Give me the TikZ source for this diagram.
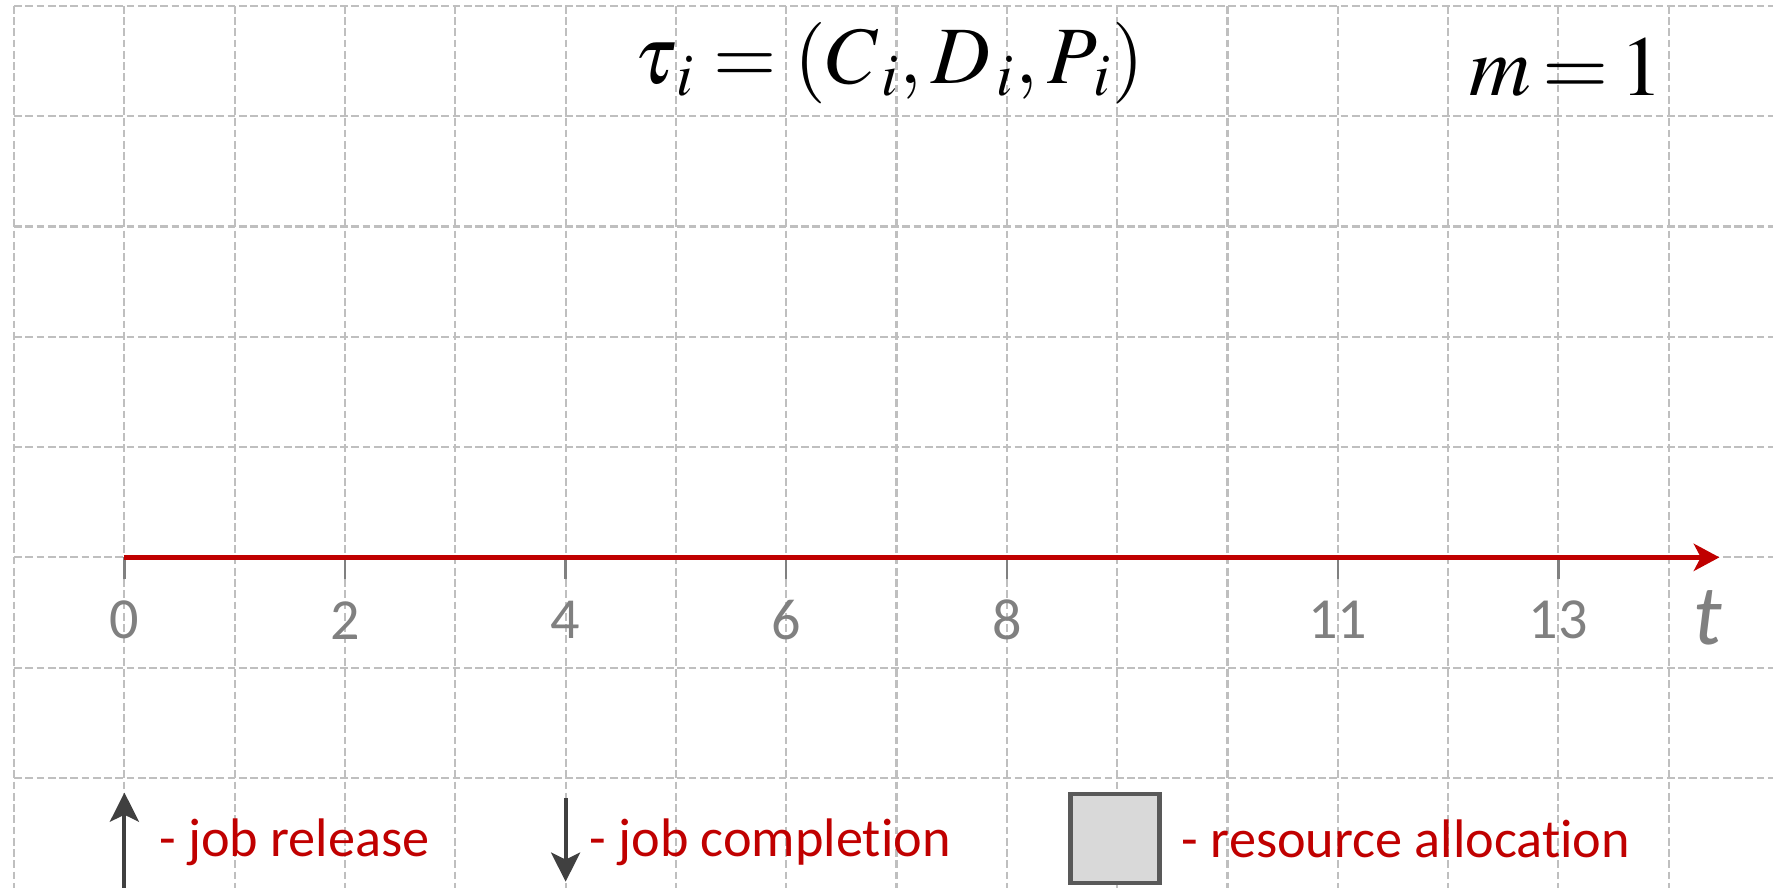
\documentclass[tikz,border=0pt]{standalone}
\usepackage{mathptmx}
\usepackage[no-math]{fontspec}
\newfontfamily\calibri[Ligatures=NoCommon]{Carlito}
\usepackage{xcolor}
\usepackage{tikz}
\usetikzlibrary{arrows.meta}

\definecolor{axisred}{HTML}{C00000}
\definecolor{gridgray}{HTML}{BFBFBF}
\definecolor{ticgray}{HTML}{808080}
\definecolor{arrowgray}{HTML}{404040}
\definecolor{boxedge}{HTML}{595959}
\definecolor{boxfill}{HTML}{D9D9D9}

\tikzset{
    gridline/.style={gridgray, line width=0.55pt, dash pattern=on 2pt off 0.9pt},
    timeaxis/.style={axisred, line width=1.2pt, -{Stealth[length=6.6pt, width=7pt, inset=1.8pt]}},
    ticline/.style={ticgray, line width=0.6pt},
    ticlabel/.style={ticgray, font=\calibri\fontsize{15}{18}\selectfont},
    legarrow/.style={arrowgray, line width=1pt, -{Stealth[length=7.5pt, width=7.5pt, inset=1.8pt]}},
    legtext/.style={axisred, anchor=base west, inner sep=0pt, font=\calibri\fontsize{14}{17}\selectfont},
    resbox/.style={draw=boxedge, fill=boxfill, line width=1.1pt}
}

\begin{document}
\begin{tikzpicture}[x=1cm, y=1cm]
                \useasboundingbox (-1.128,-2.997) rectangle (14.946,5.053);
                \clip (-1.128,-2.997) rectangle (14.946,5.053);

                % background grid
                \foreach \x in {-1,...,14} {
                    \draw[gridline] (\x,5) -- (\x,-3.1);
                }
                \foreach \y in {5,...,-2} {
                    \draw[gridline] (-1,\y) -- (15,\y);
                }

                % task and processors
                \node (task) at (6.93,4.48) {\fontsize{21}{25}\selectfont $\thickmuskip=4mu \tau_{\,i}=(C_{\,i},D_{\,i},P_{\,i})$};
                \node (proc) at (13.07,4.44) {\fontsize{22}{26}\selectfont $\thickmuskip=2.5mu m=1$};

                % time axis
                \coordinate (origin) at (0,0);
                \coordinate (tend) at (14.46,0);
                \foreach \x in {0, 2, 4, 6, 8, 11, 13} {
                    \draw[ticline] (\x,0) -- (\x,-0.2);
                    \node[ticlabel] (tic\x) at (\x,-0.57) {\x};
                }
                \draw[timeaxis] (origin) -- (tend);
                \node[ticgray, font=\calibri\itshape\fontsize{22}{26}\selectfont] (tlabel) at (14.35,-0.55) {t};

                % legend
                \coordinate (relbot) at (0,-3.05);
                \coordinate (reltop) at (0,-2.133);
                \draw[legarrow] (relbot) -- (reltop);
                \node[legtext] (reltext) at (0.31,-2.716) {- job release};

                \coordinate (comptop) at (4,-2.18);
                \coordinate (compbot) at (4,-2.94);
                \draw[legarrow] (comptop) -- (compbot);
                \node[legtext] (comptext) at (4.21,-2.716) {- job completion};

                \draw[resbox] (8.577,-2.148) rectangle (9.383,-2.952);
                \node[legtext] (restext) at (9.58,-2.725) {- resource allocation};
\end{tikzpicture}
\end{document}
